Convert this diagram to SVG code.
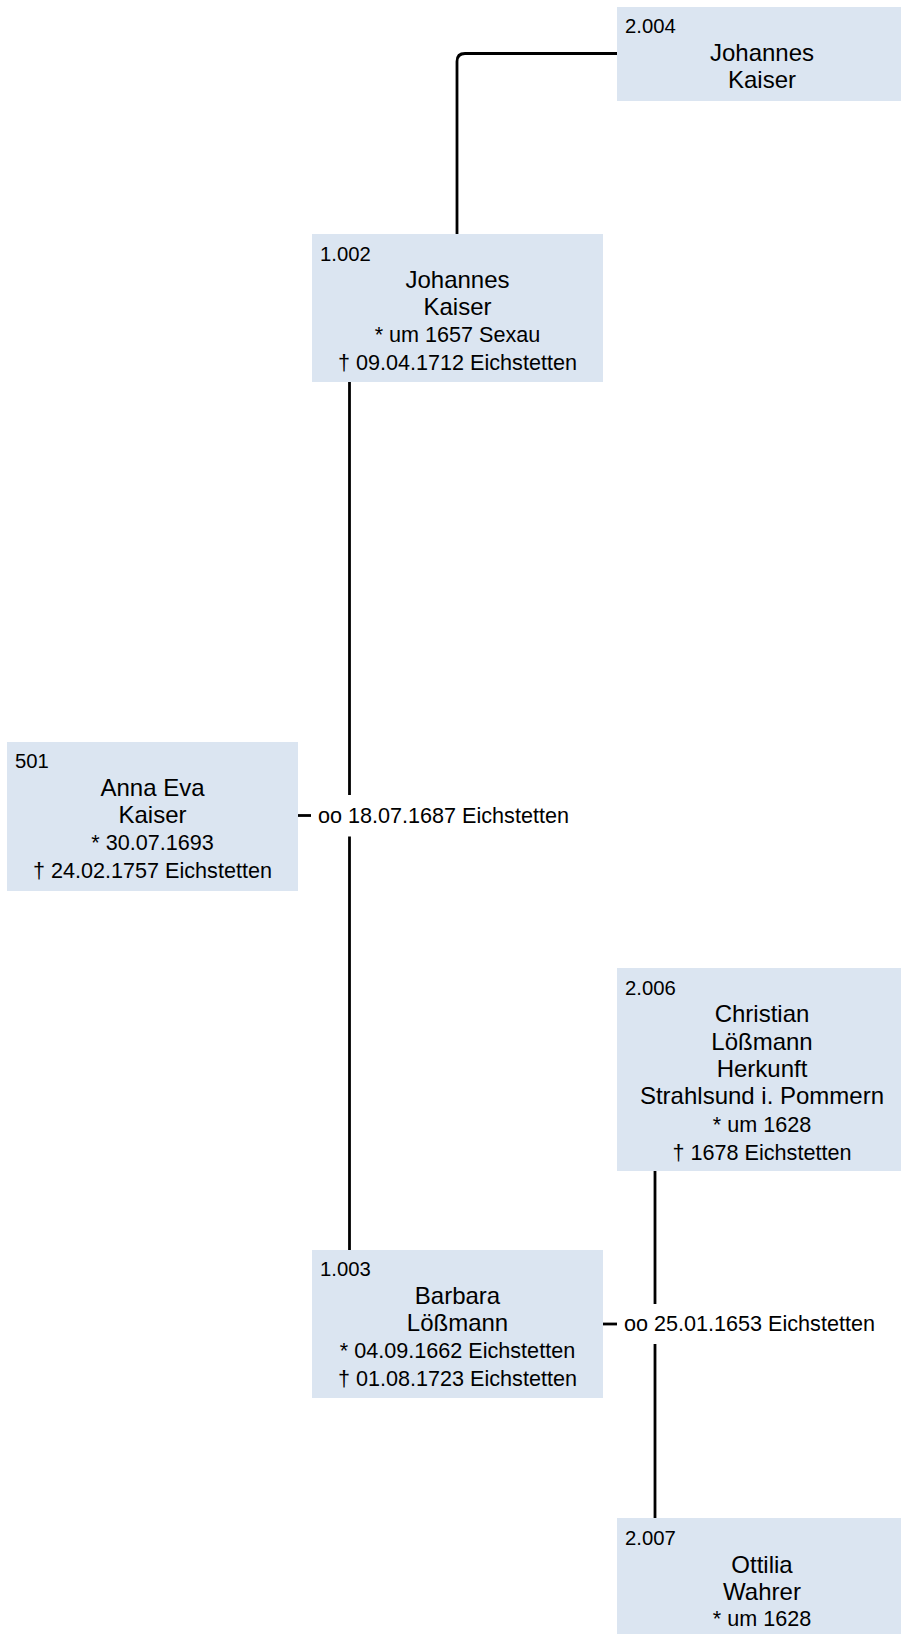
<svg xmlns="http://www.w3.org/2000/svg" width="901" height="1634" viewBox="0 0 901 1634">
<style>
.box{fill:#dbe5f1;stroke:none}
.lbl{font-family:"Liberation Sans",Arial,sans-serif;font-size:20.3px;fill:#000}
.nm{font-family:"Liberation Sans",Arial,sans-serif;font-size:24px;fill:#000;text-anchor:middle}
.dt{font-family:"Liberation Sans",Arial,sans-serif;font-size:21.6px;fill:#000;text-anchor:middle}
.mr{font-family:"Liberation Sans",Arial,sans-serif;font-size:21.6px;fill:#000}
.ln{fill:none;stroke:#000;stroke-width:2.8}
</style>
<rect width="901" height="1634" fill="#fff"/>
<g id="connectors">
<path class="ln" d="M617,53.5 H465 Q457,53.5 457,61.5 V234"/>
<path class="ln" d="M349.5,382 V795"/>
<path class="ln" d="M349.5,836.5 V1250"/>
<path class="ln" d="M298,815.5 H311"/>
<text class="mr" x="318" y="823">oo 18.07.1687 Eichstetten</text>
<path class="ln" d="M655,1171 V1304"/>
<path class="ln" d="M655,1344 V1518"/>
<path class="ln" d="M603,1324 H617"/>
<text class="mr" x="624" y="1331">oo 25.01.1653 Eichstetten</text>
</g>
<g id="n2004">
<rect class="box" x="617" y="7" width="284" height="94"/>
<text class="lbl" x="625" y="33">2.004</text>
<text class="nm" x="762" y="60.5">Johannes</text>
<text class="nm" x="762" y="87.5">Kaiser</text>
</g>
<g id="n1002">
<rect class="box" x="312" y="234" width="291" height="148"/>
<text class="lbl" x="320" y="261">1.002</text>
<text class="nm" x="457.5" y="287.5">Johannes</text>
<text class="nm" x="457.5" y="315">Kaiser</text>
<text class="dt" x="457.5" y="342">* um 1657 Sexau</text>
<text class="dt" x="457.5" y="370">† 09.04.1712 Eichstetten</text>
</g>
<g id="n501">
<rect class="box" x="7" y="742" width="291" height="149"/>
<text class="lbl" x="15" y="768">501</text>
<text class="nm" x="152.5" y="795.5">Anna Eva</text>
<text class="nm" x="152.5" y="822.5">Kaiser</text>
<text class="dt" x="152.5" y="849.5">* 30.07.1693</text>
<text class="dt" x="152.5" y="878">† 24.02.1757 Eichstetten</text>
</g>
<g id="n2006">
<rect class="box" x="617" y="968" width="284" height="203"/>
<text class="lbl" x="625" y="995">2.006</text>
<text class="nm" x="762" y="1022">Christian</text>
<text class="nm" x="762" y="1050">Lößmann</text>
<text class="nm" x="762" y="1077">Herkunft</text>
<text class="nm" x="762" y="1103.5">Strahlsund i. Pommern</text>
<text class="dt" x="762" y="1132">* um 1628</text>
<text class="dt" x="762" y="1159.5">† 1678 Eichstetten</text>
</g>
<g id="n1003">
<rect class="box" x="312" y="1250" width="291" height="148"/>
<text class="lbl" x="320" y="1276">1.003</text>
<text class="nm" x="457.5" y="1303.5">Barbara</text>
<text class="nm" x="457.5" y="1331">Lößmann</text>
<text class="dt" x="457.5" y="1358">* 04.09.1662 Eichstetten</text>
<text class="dt" x="457.5" y="1386">† 01.08.1723 Eichstetten</text>
</g>
<g id="n2007">
<rect class="box" x="617" y="1518" width="284" height="116"/>
<text class="lbl" x="625" y="1545">2.007</text>
<text class="nm" x="762" y="1572.5">Ottilia</text>
<text class="nm" x="762" y="1599.5">Wahrer</text>
<text class="dt" x="762" y="1626">* um 1628</text>
</g>
</svg>
